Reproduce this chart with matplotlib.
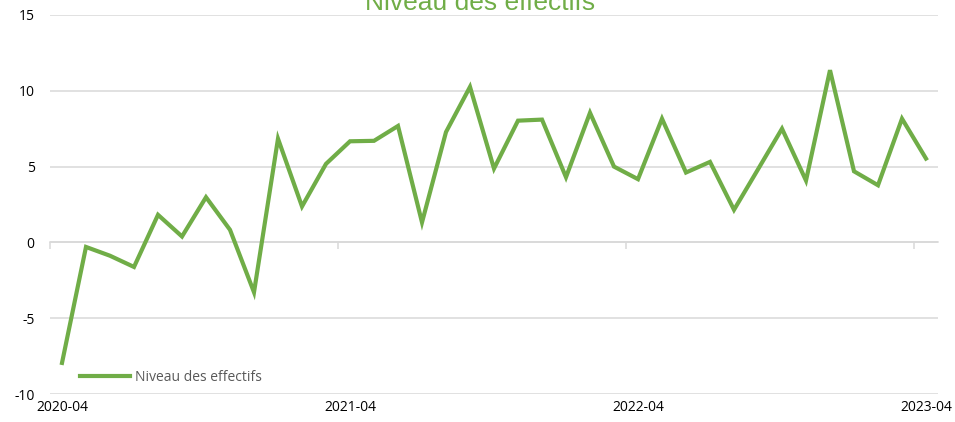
import matplotlib
matplotlib.use("Agg")
import matplotlib.pyplot as plt
import numpy as np

months = ["2020-04","2020-05","2020-06","2020-07","2020-08","2020-09","2020-10","2020-11","2020-12",
          "2021-01","2021-02","2021-03","2021-04","2021-05","2021-06","2021-07","2021-08","2021-09",
          "2021-10","2021-11","2021-12","2022-01","2022-02","2022-03","2022-04","2022-05","2022-06",
          "2022-07","2022-08","2022-09","2022-10","2022-11","2022-12","2023-01","2023-02","2023-03","2023-04"]
niveau = [-7.95, -0.3, -0.88, -1.62, 1.82, 0.39, 2.98, 0.83, -3.29,
          6.84, 2.37, 5.18, 6.67, 6.7, 7.68, 1.32, 7.28, 10.26,
          4.87, 8.03, 8.1, 4.3, 8.55, 5.0, 4.17, 8.16, 4.61,
          5.31, 2.15, 4.82, 7.5, 4.08, 11.36, 4.69, 3.77, 8.16, 5.53]
series_name = "Niveau des effectifs"
yticks = [-10, -5, 0, 5, 10, 15]

green = "#70AD47"
grid = "#D9D9D9"

fig = plt.figure(figsize=(9.55, 4.22), dpi=100)
ax = fig.add_axes([50/955, 28/422, 888/955, 379/422])
x = np.arange(len(months))
ax.plot(x, niveau, color=green, lw=3.0, solid_joinstyle="miter", label=series_name, zorder=3)

ax.set_xlim(-0.5, len(months) - 0.5)
ax.set_ylim(yticks[0], yticks[-1])
ax.set_yticks(yticks)
ax.set_yticklabels([str(v) for v in yticks], fontsize=10, family="Open Sans", color="#000000")
ax.yaxis.grid(True, color=grid, lw=1.1)
ax.set_axisbelow(True)
ax.tick_params(axis="y", length=0, pad=11)
for s in ax.spines.values():
    s.set_visible(False)

lab_idx = list(range(0, len(months), 12))
ax.set_xticks(lab_idx)
ax.set_xticklabels([months[i] for i in lab_idx], fontsize=10, family="Open Sans", color="#000000")
ax.tick_params(axis="x", length=0, pad=4)

# axis line at y=0 with boundary tick marks
y0 = (0 - yticks[0]) / (yticks[-1] - yticks[0])
sec = ax.secondary_xaxis(y0)
sec.set_xticks([i - 0.5 for i in lab_idx])
sec.set_xticklabels([])
sec.tick_params(axis="x", direction="out", length=5, color=grid, width=1.1)
sec.spines["bottom"].set_color(grid)
sec.spines["bottom"].set_linewidth(1.1)

leg = ax.legend(loc="lower left", bbox_to_anchor=(30/888, 9/379), frameon=False,
                prop={"family": "Open Sans", "size": 10}, handlelength=3.6,
                handletextpad=0.35, borderaxespad=0, borderpad=0)
for t in leg.get_texts():
    t.set_color("#595959")

fig.text(480/955, 1 - 10/422, series_name, ha="center", va="baseline",
         fontsize=19, family="Liberation Sans", color=green)

fig.savefig("out.png", dpi=100)
